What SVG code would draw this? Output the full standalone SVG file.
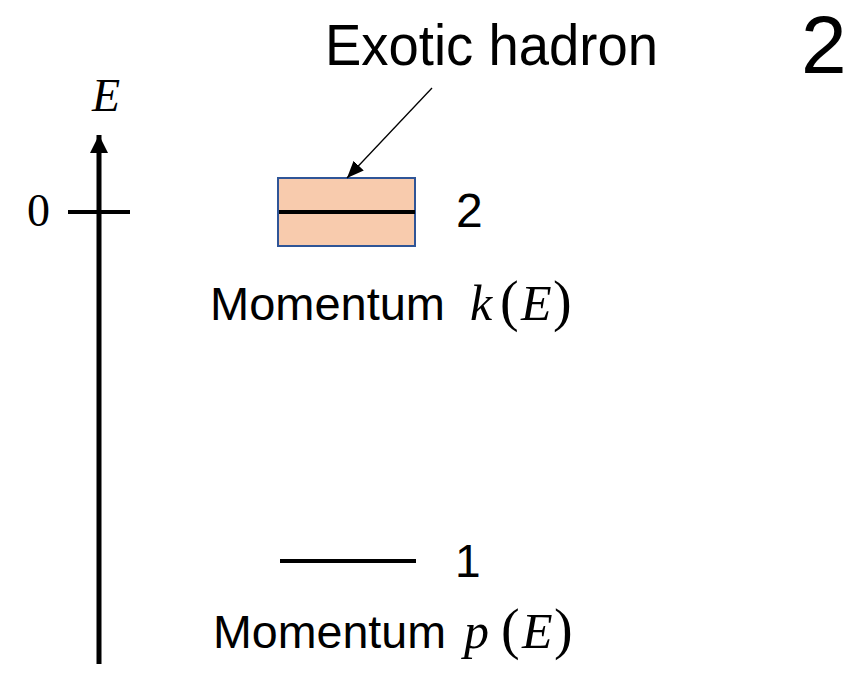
<svg xmlns="http://www.w3.org/2000/svg" width="859" height="677" viewBox="0 0 859 677">
<defs>
<marker id="ah" viewBox="0 0 10 10" refX="10" refY="5" markerWidth="17" markerHeight="14" markerUnits="userSpaceOnUse" orient="auto" preserveAspectRatio="none">
<path d="M0,0 L10,5 L0,10 z" fill="#000"/>
</marker>
<marker id="ah2" viewBox="0 0 10 10" refX="10" refY="5" markerWidth="18" markerHeight="18" markerUnits="userSpaceOnUse" orient="auto">
<path d="M0,0 L10,5 L0,10 z" fill="#000"/>
</marker>
</defs>
<style>
.sans{font-family:"Liberation Sans","Noto Sans",sans-serif;fill:#000}
.math{font-family:"Liberation Serif","DejaVu Serif",serif;fill:#000}
.it{font-style:italic}
.lvl{stroke:#000;stroke-width:4;fill:none}
.ml{font-size:50px}
.mp{font-size:56px}
</style>
<rect width="859" height="677" fill="#fff"/>
<g id="axis">
<line x1="99" y1="664" x2="99" y2="135" stroke="#000" stroke-width="5" marker-end="url(#ah2)"/>
<line x1="68" y1="212" x2="130" y2="212" class="lvl"/>
<text x="27" y="226" class="math" font-size="46">0</text>
<text x="92" y="111" class="math it" font-size="46">E</text>
</g>
<g id="level2">
<rect x="278" y="178" width="137" height="68" fill="#F8CBAD" stroke="#2F5597" stroke-width="2"/>
<line x1="279" y1="212" x2="415" y2="212" class="lvl"/>
<text x="456" y="227" class="sans" font-size="48">2</text>
</g>
<g id="label-k">
<text x="210" y="320" class="sans" font-size="47" textLength="235" lengthAdjust="spacingAndGlyphs">Momentum</text>
<text y="320" class="math"><tspan x="470" class="it ml">k</tspan><tspan x="500" class="mp">(</tspan><tspan x="521" class="it ml">E</tspan><tspan x="553" class="mp">)</tspan></text>
</g>
<g id="level1">
<line x1="280" y1="561" x2="416" y2="561" class="lvl"/>
<text x="455" y="577" class="sans" font-size="46">1</text>
</g>
<g id="label-p">
<text x="213" y="648" class="sans" font-size="47" textLength="233" lengthAdjust="spacingAndGlyphs">Momentum</text>
<text y="648" class="math"><tspan x="464" class="it ml">p</tspan><tspan x="501" class="mp">(</tspan><tspan x="522" class="it ml">E</tspan><tspan x="554" class="mp">)</tspan></text>
</g>
<g id="title">
<text x="325" y="65" class="sans" font-size="58" textLength="333" lengthAdjust="spacingAndGlyphs">Exotic hadron</text>
<text x="801" y="73" class="sans" font-size="82">2</text>
</g>
<g id="connectors">
<line x1="432" y1="88" x2="347" y2="178" stroke="#000" stroke-width="1.3" marker-end="url(#ah)"/>
</g>
</svg>
